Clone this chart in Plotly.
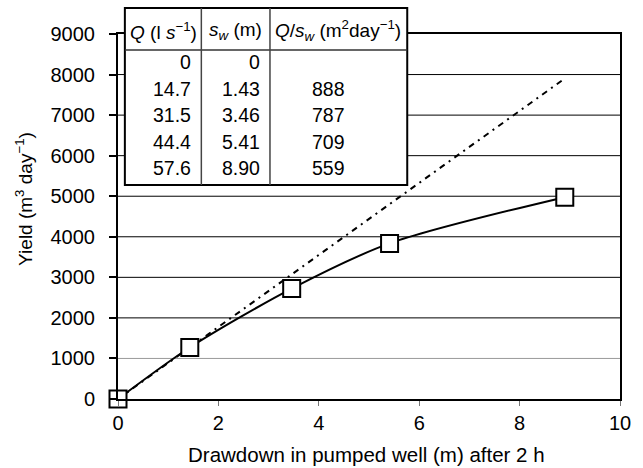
import plotly.graph_objects as go

# Step-drawdown test results
q_ls = [0, 14.7, 31.5, 44.4, 57.6]          # discharge, l/s
sw_m = [0, 1.43, 3.46, 5.41, 8.90]          # drawdown after 2 h, m
q_labels = ["0", "14.7", "31.5", "44.4", "57.6"]
sw_labels = ["0", "1.43", "3.46", "5.41", "8.90"]
spec_cap = ["", "888", "787", "709", "559"]  # Q/sw, m2/day
spec_cap_first = 888

yield_m3d = [q * 86.4 for q in q_ls]         # l/s -> m3/day

x_ticks = [0, 2, 4, 6, 8, 10]
y_ticks = [0, 1000, 2000, 3000, 4000, 5000, 6000, 7000, 8000, 9000]

W, H = 643, 468
L, R, T, B = 118, 13, 34, 69
PW, PH = W - L - R, H - T - B
FONT = "Liberation Sans, Arial, Helvetica, sans-serif"


def px(xpix):
    return (xpix - L) / PW


def py(ypix):
    return (H - B - ypix) / PH


fig = go.Figure()

# straight-line extrapolation of the first step's specific capacity
fig.add_trace(go.Scatter(
    x=[0, sw_m[-1]], y=[0, spec_cap_first * sw_m[-1]],
    mode="lines", line=dict(color="black", width=2, dash="6px,5px,2px,5px"),
    hoverinfo="skip", showlegend=False,
))

fig.add_trace(go.Scatter(
    x=sw_m, y=yield_m3d, mode="lines+markers",
    line=dict(color="black", width=2, shape="spline", smoothing=0.8),
    marker=dict(symbol="square", size=17, color="white",
                line=dict(color="black", width=2)),
    cliponaxis=False, showlegend=False,
))

shapes = []
for yv in y_ticks[1:-1]:
    shapes.append(dict(
        type="line", xref="paper", yref="y", x0=0, x1=1, y0=yv, y1=yv,
        line=dict(color="#9a9a9a" if yv == 1000 else "black", width=1),
        layer="below",
    ))

# inset table
tl, tr, tt, tb = 125, 413, 8, 185
shapes.append(dict(type="rect", xref="paper", yref="paper",
                   x0=px(tl), x1=px(tr), y0=py(tb), y1=py(tt),
                   fillcolor="white", line=dict(color="black", width=2),
                   layer="above"))
shapes.append(dict(type="line", xref="paper", yref="paper",
                   x0=px(tl), x1=px(tr), y0=py(50), y1=py(50),
                   line=dict(color="#333", width=1.5), layer="above"))
for cx in (203, 273):
    shapes.append(dict(type="line", xref="paper", yref="paper",
                       x0=px(cx), x1=px(cx), y0=py(tt), y1=py(tb),
                       line=dict(color="#444", width=1.5), layer="above"))

annotations = []
tfont = dict(family=FONT, size=19.5, color="black")
hfont = dict(family=FONT, size=19, color="black")
headers = [
    ("<i>Q</i> (l <i>s</i><sup>−1</sup>)", 164),
    ("<i>s<sub>w</sub></i> (m)", 238),
    ("<i>Q</i>/<i>s<sub>w</sub></i> (m<sup>2</sup>day<sup>−1</sup>)", 342),
]
for txt, cx in headers:
    annotations.append(dict(text=txt, xref="paper", yref="paper",
                            x=px(cx), y=py(31), xanchor="center",
                            yanchor="middle", showarrow=False, font=hfont))

row_y = [62, 88.5, 115, 141.5, 168]
for i, ry in enumerate(row_y):
    annotations.append(dict(text=q_labels[i], xref="paper", yref="paper",
                            x=px(195), y=py(ry), xanchor="right",
                            yanchor="middle", showarrow=False, font=tfont))
    annotations.append(dict(text=sw_labels[i], xref="paper", yref="paper",
                            x=px(265), y=py(ry), xanchor="right",
                            yanchor="middle", showarrow=False, font=tfont))
    if spec_cap[i]:
        annotations.append(dict(text=spec_cap[i], xref="paper", yref="paper",
                                x=px(333), y=py(ry), xanchor="center",
                                yanchor="middle", showarrow=False, font=tfont))

# axis titles
annotations.append(dict(text="Yield (m<sup>3</sup> day<sup>−1</sup>)",
                        xref="paper", yref="paper", x=px(22), y=py(199),
                        xanchor="center", yanchor="middle", textangle=-90,
                        showarrow=False,
                        font=dict(family=FONT, size=19, color="black")))
annotations.append(dict(text="Drawdown in pumped well (m) after 2 h",
                        xref="paper", yref="paper", x=px(371), y=py(454),
                        xanchor="center", yanchor="middle", showarrow=False,
                        font=dict(family=FONT, size=20.5, color="black")))

fig.update_layout(
    width=W, height=H,
    margin=dict(l=L, r=R, t=T, b=B),
    paper_bgcolor="white", plot_bgcolor="white",
    font=dict(family=FONT, size=20, color="black"),
    shapes=shapes, annotations=annotations,
    xaxis=dict(range=[0, 10], tickvals=x_ticks, showgrid=False,
               zeroline=False, showline=True, linecolor="black",
               linewidth=2, mirror=True, ticks="outside", ticklen=5,
               tickcolor="#777", tickwidth=1,
               tickfont=dict(family=FONT, size=20, color="black")),
    yaxis=dict(range=[0, 9000], tickvals=y_ticks, showgrid=False,
               zeroline=False, showline=True, linecolor="black",
               linewidth=2, mirror=True, ticks="outside", ticklen=7,
               tickcolor="black", tickwidth=1.5, ticklabelstandoff=10,
               tickfont=dict(family=FONT, size=20, color="black")),
)

fig.write_html("out.html")
